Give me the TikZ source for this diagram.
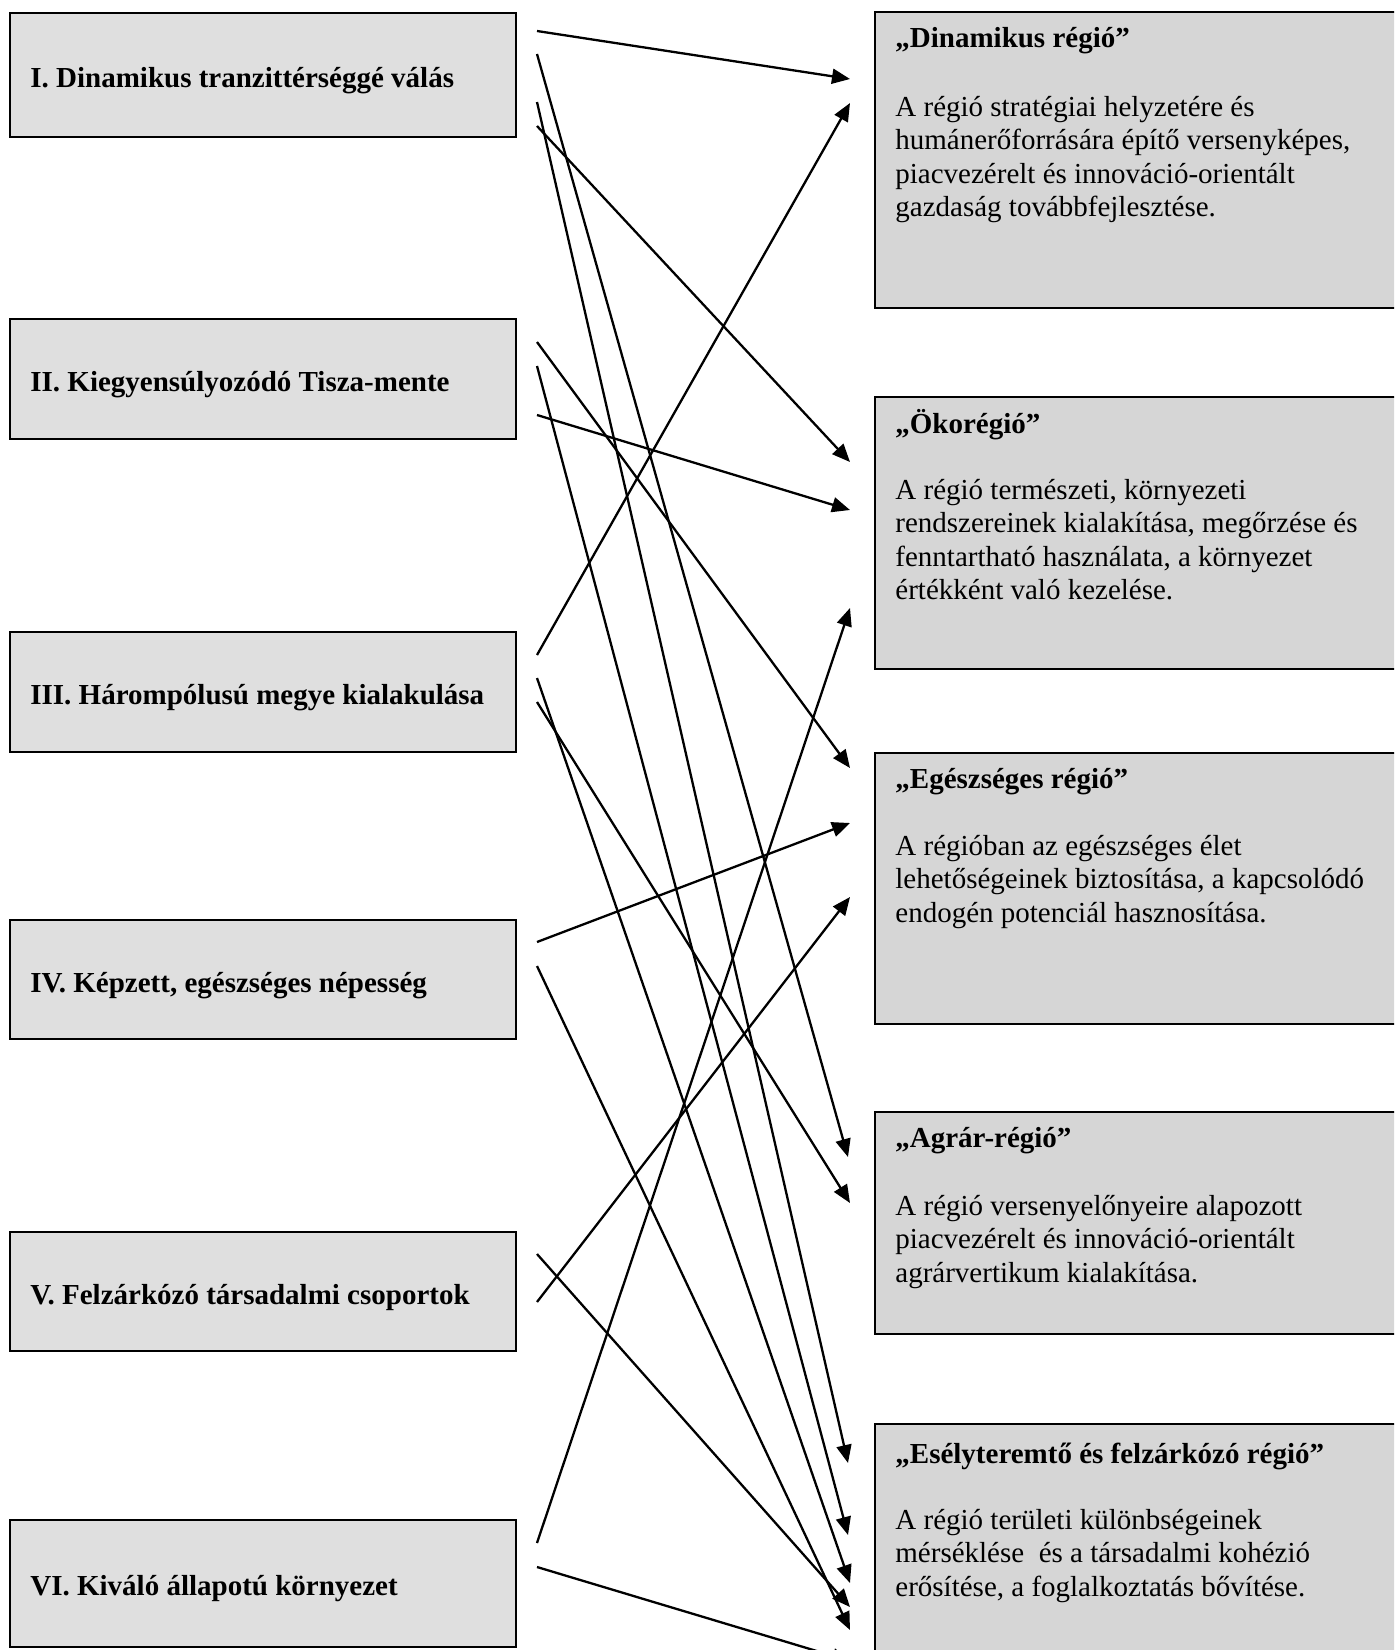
\documentclass[tikz,border=0pt]{standalone}
\usepackage{fontspec}
\setmainfont{Liberation Serif}
\usetikzlibrary{arrows.meta}

\newcommand{\boxfont}{\fontsize{14.5}{16.75}\selectfont}

\tikzset{
  goalbox/.style={draw, line width=1pt, fill=gray!25, anchor=north west, inner sep=0pt, minimum width=253pt},
  regionbox/.style={draw, line width=1pt, fill=gray!32, anchor=north west, inner sep=0pt, minimum width=280pt},
  goaltext/.style={anchor=base west, inner sep=0pt, font=\boxfont\bfseries},
  regiontitle/.style={anchor=base west, inner sep=0pt, font=\boxfont\bfseries},
  regiontext/.style={anchor=base west, inner sep=0pt, align=left, font=\boxfont},
  link/.style={line width=1.15pt, -{Triangle[length=9pt,width=7.5pt]}},
}

\begin{document}
\begin{tikzpicture}[x=0.5pt, y=-0.5pt]
\useasboundingbox (0,0) rectangle (1394,1650);
\clip (0,0) rectangle (1394,1650);

% goals on the left
\node[goalbox, minimum height=62pt] (goal1) at (9,12) {};
\node[goalbox, minimum height=60pt] (goal2) at (9,318) {};
\node[goalbox, minimum height=60pt] (goal3) at (9,631) {};
\node[goalbox, minimum height=59.5pt] (goal4) at (9,919) {};
\node[goalbox, minimum height=59.5pt] (goal5) at (9,1231) {};
\node[goalbox, minimum height=63.5pt] (goal6) at (9,1519) {};

\node[goaltext] (goal1-t) at ([shift={(21,75)}]goal1.north west) {I. Dinamikus tranzittérséggé válás};
\node[goaltext] (goal2-t) at ([shift={(21,73)}]goal2.north west) {II. Kiegyensúlyozódó Tisza-mente};
\node[goaltext] (goal3-t) at ([shift={(21,73)}]goal3.north west) {III. Hárompólusú megye kialakulása};
\node[goaltext] (goal4-t) at ([shift={(21,73)}]goal4.north west) {IV. Képzett, egészséges népesség};
\node[goaltext] (goal5-t) at ([shift={(21,73)}]goal5.north west) {V. Felzárkózó társadalmi csoportok};
\node[goaltext] (goal6-t) at ([shift={(21,76)}]goal6.north west) {VI. Kiváló állapotú környezet};

% regions on the right (body text sits on its last line)
\node[regionbox, minimum height=148pt] (din) at (874,11) {};
\node[regionbox, minimum height=136pt] (oko) at (874,396) {};
\node[regionbox, minimum height=135.5pt] (egesz) at (874,752) {};
\node[regionbox, minimum height=111pt] (agrar) at (874,1111) {};
\node[regionbox, minimum height=130pt] (esely) at (874,1423) {};

\node[regiontitle] (din-t) at ([shift={(21,36)}]din.north west) {„Dinamikus régió”};
\node[regiontext] (din-b) at ([shift={(21,205.5)}]din.north west)
  {A régió stratégiai helyzetére és\\humánerőforrására építő versenyképes,\\piacvezérelt és innováció-orientált\\gazdaság továbbfejlesztése.};
\node[regiontitle] (oko-t) at ([shift={(21,37)}]oko.north west) {„Ökorégió”};
\node[regiontext] (oko-b) at ([shift={(21,203.5)}]oko.north west)
  {A régió természeti, környezeti\\rendszereinek kialakítása, megőrzése és\\fenntartható használata, a környezet\\értékként való kezelése.};
\node[regiontitle] (egesz-t) at ([shift={(21,36)}]egesz.north west) {„Egészséges régió”};
\node[regiontext] (egesz-b) at ([shift={(21,170)}]egesz.north west)
  {A régióban az egészséges élet\\lehetőségeinek biztosítása, a kapcsolódó\\endogén potenciál hasznosítása.};
\node[regiontitle] (agrar-t) at ([shift={(21,36)}]agrar.north west) {„Agrár-régió”};
\node[regiontext] (agrar-b) at ([shift={(21,171)}]agrar.north west)
  {A régió versenyelőnyeire alapozott\\piacvezérelt és innováció-orientált\\agrárvertikum kialakítása.};
\node[regiontitle] (esely-t) at ([shift={(21,40)}]esely.north west) {„Esélyteremtő és felzárkózó régió”};
\node[regiontext] (esely-b) at ([shift={(21,173)}]esely.north west)
  {A régió területi különbségeinek\\mérséklése\ \ és a társadalmi kohézió\\erősítése, a foglalkoztatás bővítése.};

% arrow ends
\coordinate (g1a) at (537,31);
\coordinate (g1b) at (537,54);
\coordinate (g1c) at (537,102);
\coordinate (g1d) at (537,126);
\coordinate (g2a) at (537,342);
\coordinate (g2b) at (537,366);
\coordinate (g2c) at (537,415);
\coordinate (g3a) at (537,655);
\coordinate (g3b) at (537,678);
\coordinate (g3c) at (537,702);
\coordinate (g4a) at (537,942);
\coordinate (g4b) at (537,966);
\coordinate (g5a) at (537,1254);
\coordinate (g5b) at (537,1302);
\coordinate (g6a) at (537,1543);
\coordinate (g6b) at (537,1567);

\coordinate (din1) at (850,79);
\coordinate (din2) at (850,103);
\coordinate (oko1) at (850,462);
\coordinate (oko2) at (850,510);
\coordinate (oko3) at (850,608);
\coordinate (egesz1) at (850,768);
\coordinate (egesz2) at (850,823);
\coordinate (egesz3) at (850,897);
\coordinate (agrar1) at (848,1157);
\coordinate (agrar2) at (850,1203);
\coordinate (esely1) at (848,1463);
\coordinate (esely2) at (848,1535);
\coordinate (esely3) at (850,1583);
\coordinate (esely4) at (850,1607);
\coordinate (esely5) at (850,1630);
\coordinate (esely6) at (850,1661);

% Draw arrows
\draw[link] (g1a) -- (din1);
\draw[link] (g1b) -- (agrar1);
\draw[link] (g1c) -- (esely1);
\draw[link] (g1d) -- (oko1);
\draw[link] (g2a) -- (egesz1);
\draw[link] (g2b) -- (esely2);
\draw[link] (g2c) -- (oko2);
\draw[link] (g3a) -- (din2);
\draw[link] (g3b) -- (esely3);
\draw[link] (g3c) -- (agrar2);
\draw[link] (g4a) -- (egesz2);
\draw[link] (g4b) -- (esely5);
\draw[link] (g5a) -- (esely4);
\draw[link] (g5b) -- (egesz3);
\draw[link] (g6a) -- (oko3);
\draw[link] (g6b) -- (esely6);

\end{tikzpicture}
\end{document}
